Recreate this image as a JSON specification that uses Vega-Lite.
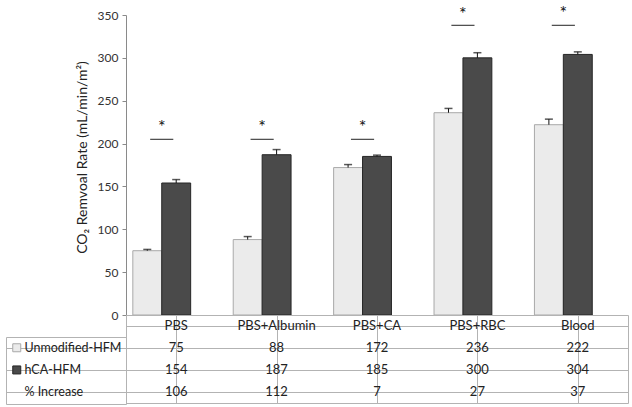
{
  "$schema": "https://vega.github.io/schema/vega-lite/v6.json",
  "padding": {"left": 5, "top": 5, "right": 5, "bottom": 5},
  "config": {"font": "Lato", "view": {"stroke": null}, "text": {"color": "#222"}},
  "datasets": {
    "main": [
      {"cat": "PBS", "series": "Unmodified-HFM", "value": 75, "hi": 76.5},
      {"cat": "PBS", "series": "hCA-HFM", "value": 154, "hi": 158},
      {"cat": "PBS", "series": "% Increase", "value": 106},
      {"cat": "PBS+Albumin", "series": "Unmodified-HFM", "value": 88, "hi": 91.5},
      {"cat": "PBS+Albumin", "series": "hCA-HFM", "value": 187, "hi": 193},
      {"cat": "PBS+Albumin", "series": "% Increase", "value": 112},
      {"cat": "PBS+CA", "series": "Unmodified-HFM", "value": 172, "hi": 175.5},
      {"cat": "PBS+CA", "series": "hCA-HFM", "value": 185, "hi": 186.5},
      {"cat": "PBS+CA", "series": "% Increase", "value": 7},
      {"cat": "PBS+RBC", "series": "Unmodified-HFM", "value": 236, "hi": 241},
      {"cat": "PBS+RBC", "series": "hCA-HFM", "value": 300, "hi": 306},
      {"cat": "PBS+RBC", "series": "% Increase", "value": 27},
      {"cat": "Blood", "series": "Unmodified-HFM", "value": 222, "hi": 228.5},
      {"cat": "Blood", "series": "hCA-HFM", "value": 304, "hi": 307},
      {"cat": "Blood", "series": "% Increase", "value": 37}
    ],
    "sig": [
      {"cat": "PBS", "line": 205, "star": 218},
      {"cat": "PBS+Albumin", "line": 205, "star": 218},
      {"cat": "PBS+CA", "line": 205, "star": 218},
      {"cat": "PBS+RBC", "line": 338, "star": 350},
      {"cat": "Blood", "line": 338, "star": 351}
    ]
  },
  "bounds": "flush",
  "spacing": 0,
  "vconcat": [
    {
      "width": 502,
      "height": 300,
      "encoding": {
        "x": {
          "field": "cat", "type": "nominal",
          "sort": ["PBS", "PBS+Albumin", "PBS+CA", "PBS+RBC", "Blood"],
          "scale": {"paddingInner": 0.136, "paddingOuter": 0.068},
          "axis": null
        }
      },
      "layer": [
        {
          "data": {"name": "main"},
          "transform": [{"filter": "datum.series != '% Increase'"}],
          "mark": {"type": "bar", "strokeWidth": 1},
          "encoding": {
            "xOffset": {"field": "series", "type": "nominal", "scale": {"domain": ["Unmodified-HFM", "hCA-HFM", "% Increase"], "paddingInner": 0, "paddingOuter": 0}},
            "y": {
              "field": "value", "type": "quantitative",
              "scale": {"domain": [0, 350]},
              "axis": {
                "values": [0, 50, 100, 150, 200, 250, 300, 350],
                "title": "CO₂ Remvoal Rate (mL/min/m²)",
                "grid": false, "tickSize": 4,
                "domainColor": "#8a8a8a", "tickColor": "#8a8a8a",
                "labelFontSize": 12, "labelColor": "#333", "labelPadding": 4,
                "titleFontSize": 14, "titleFontWeight": "normal", "titleColor": "#222", "titlePadding": 8,
                "titleY": 142
              }
            },
            "fill": {
              "field": "series", "type": "nominal",
              "scale": {"domain": ["Unmodified-HFM", "hCA-HFM", "% Increase"], "range": ["#ebebeb", "#4a4a4a", "transparent"]},
              "legend": {
                "orient": "none", "legendX": -120, "legendY": 322, "title": null,
                "symbolType": "square", "symbolSize": 64, "symbolStrokeWidth": 1,
                "labelFontSize": 12.5, "labelColor": "#222", "labelOffset": 1.5,
                "padding": 4.5, "rowPadding": 9.2, "strokeColor": "#b3b3b3"
              }
            },
            "stroke": {
              "field": "series", "type": "nominal",
              "scale": {"domain": ["Unmodified-HFM", "hCA-HFM", "% Increase"], "range": ["#a9a9a9", "#262626", "transparent"]},
              "legend": {
                "orient": "none", "legendX": -120, "legendY": 322, "title": null,
                "symbolType": "square", "symbolSize": 64, "symbolStrokeWidth": 1,
                "labelFontSize": 12.5, "labelColor": "#222", "labelOffset": 1.5,
                "padding": 4.5, "rowPadding": 9.2, "strokeColor": "#b3b3b3"
              }
            }
          }
        },
        {
          "data": {"name": "main"},
          "transform": [{"filter": "datum.series != '% Increase'"}],
          "mark": {"type": "rule", "color": "#111", "strokeWidth": 1},
          "encoding": {
            "xOffset": {"field": "series", "type": "nominal"},
            "y": {"field": "value", "type": "quantitative"},
            "y2": {"field": "hi"}
          }
        },
        {
          "data": {"name": "main"},
          "transform": [{"filter": "datum.series != '% Increase'"}],
          "mark": {"type": "tick", "orient": "horizontal", "size": 8, "thickness": 1.5, "color": "#111"},
          "encoding": {
            "xOffset": {"field": "series", "type": "nominal"},
            "y": {"field": "hi", "type": "quantitative"}
          }
        },
        {
          "data": {"name": "sig"},
          "mark": {"type": "rule", "strokeWidth": 1, "color": "#222"},
          "encoding": {
            "x": {"field": "cat", "type": "nominal", "sort": ["PBS", "PBS+Albumin", "PBS+CA", "PBS+RBC", "Blood"], "bandPosition": 0.2},
            "x2": {"field": "cat", "bandPosition": 0.4667},
            "y": {"field": "line", "type": "quantitative"}
          }
        },
        {
          "data": {"name": "sig"},
          "mark": {"type": "text", "fontSize": 18, "baseline": "middle", "color": "#111"},
          "encoding": {
            "x": {"field": "cat", "type": "nominal", "sort": ["PBS", "PBS+Albumin", "PBS+CA", "PBS+RBC", "Blood"], "bandPosition": 0.3333},
            "y": {"field": "star", "type": "quantitative"},
            "text": {"value": "*"}
          }
        }
      ]
    },
    {
      "width": 502,
      "height": 88,
      "view": {"stroke": "#b3b3b3"},
      "data": {"name": "main"},
      "encoding": {
        "x": {
          "field": "cat", "type": "nominal",
          "sort": ["PBS", "PBS+Albumin", "PBS+CA", "PBS+RBC", "Blood"],
          "scale": {"paddingInner": 0, "paddingOuter": 0},
          "axis": {"bandPosition": 0, "grid": true, "gridColor": "#b3b3b3", "labels": false, "ticks": false, "domain": false, "title": null}
        }
      },
      "layer": [
        {
          "mark": {"type": "text", "fontSize": 13},
          "encoding": {
            "y": {
              "field": "series", "type": "nominal",
              "scale": {"domain": ["Condition", "Unmodified-HFM", "hCA-HFM", "% Increase"], "paddingInner": 0, "paddingOuter": 0},
              "axis": {
                "bandPosition": 0, "grid": true, "gridColor": "#b3b3b3", "domain": false,
                "tickSize": 120,
                "tickColor": {"condition": {"test": "datum.value == 'Condition'", "value": "transparent"}, "value": "#b3b3b3"},
                "labels": false, "title": null
              }
            },
            "text": {"field": "value"}
          }
        },
        {
          "transform": [{"filter": "datum.series == '% Increase'"}],
          "mark": {"type": "text", "fontSize": 13},
          "encoding": {
            "y": {"datum": "Condition"},
            "text": {"field": "cat"}
          }
        }
      ]
    }
  ]
}
